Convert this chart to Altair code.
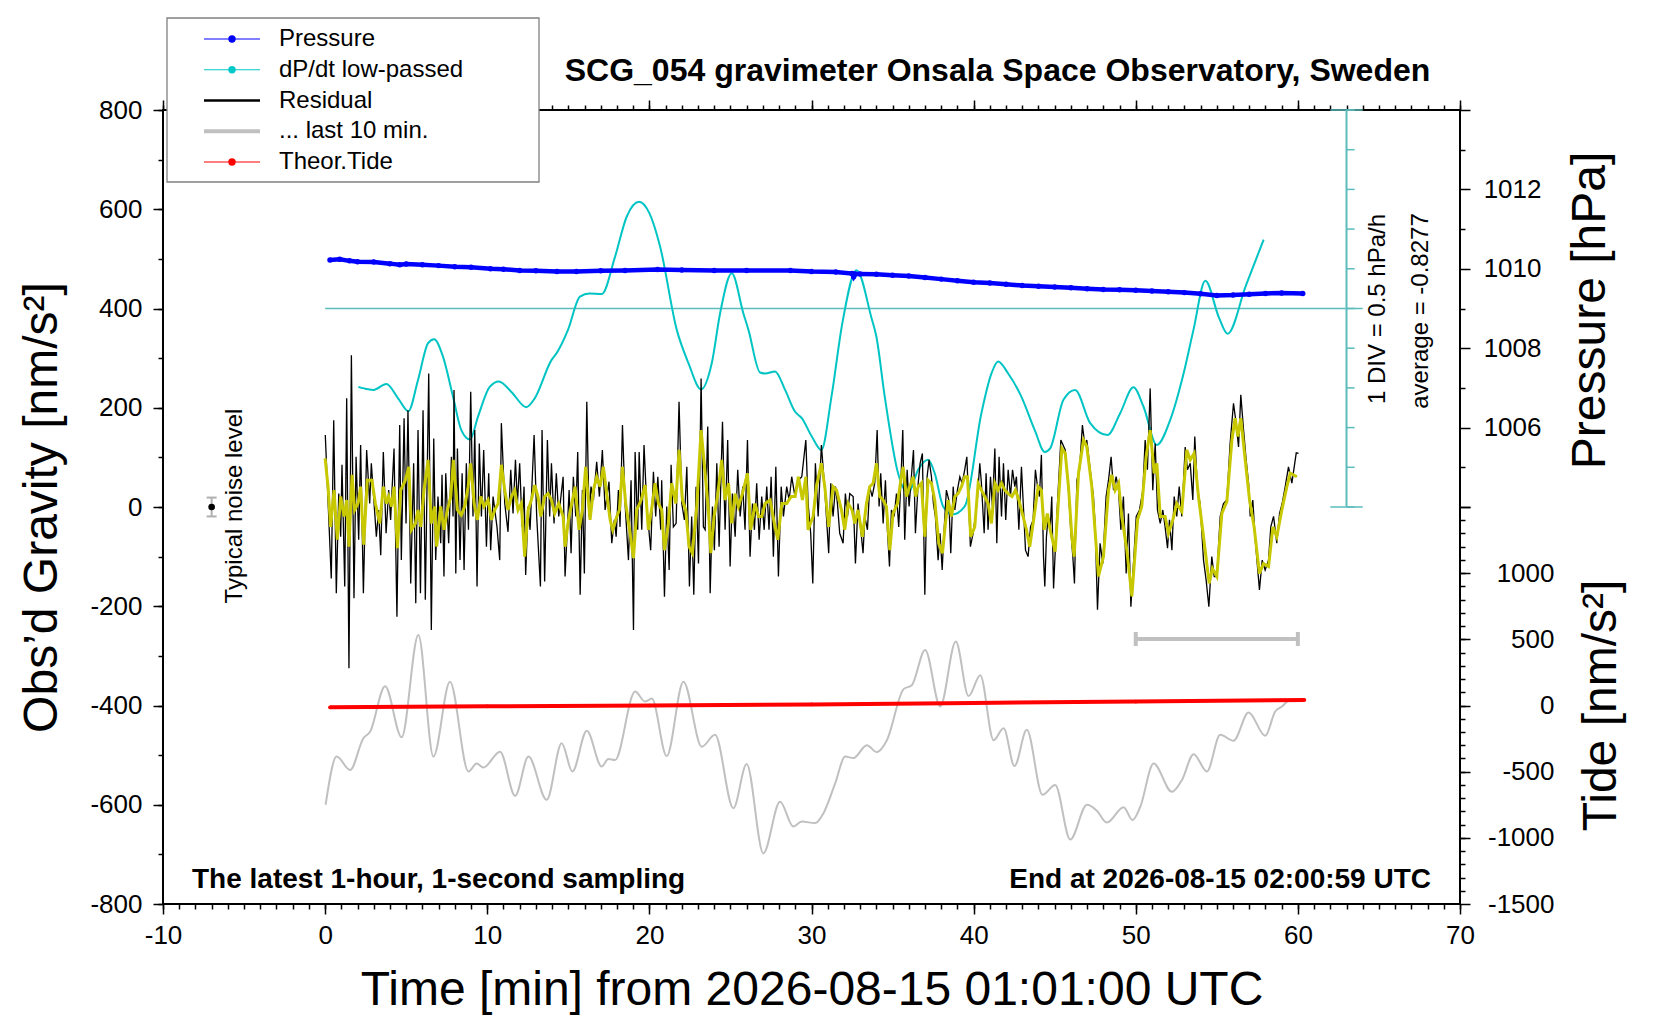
import altair as alt
import pandas as pd

FONT = "Liberation Sans, Arial, Helvetica, sans-serif"

# ---------------- data ----------------
# residual gravity, black line (time [min], nm/s^2)
RESIDUAL = [
    (0.01,145),(0.38,-144),(0.53,175),(0.69,-174),(0.84,27),(0.96,-60),(1.04,85),(1.21,-160),(1.33,219),(1.47,-325),
    (1.62,306),(1.78,-184),(1.91,101),(2.07,-66),(2.19,125),(2.36,-174),(2.56,115),(2.75,7),(2.85,88),(3.16,-60),
    (3.30,-6),(3.43,-97),(3.59,111),(3.76,-53),(3.92,34),(4.04,-26),(4.25,118),(4.43,-221),(4.60,165),(4.70,-107),
    (4.87,179),(4.99,-33),(5.11,195),(5.28,-154),(5.46,88),(5.59,-194),(5.73,155),(5.88,-174),(6.04,195),(6.18,-187),
    (6.39,269),(6.55,-248),(6.70,138),(6.82,-107),(6.96,21),(7.13,-73),(7.21,65),(7.33,-140),(7.44,68),(7.62,-73),
    (7.79,101),(7.89,-19),(7.95,236),(8.06,-134),(8.16,118),(8.32,-107),(8.45,68),(8.57,-127),(8.71,88),(8.84,-46),
    (8.98,232),(9.12,-19),(9.23,155),(9.37,-160),(9.51,128),(9.64,-19),(9.78,115),(9.95,-80),(10.09,68),(10.21,-87),
    (10.36,21),(10.60,-40),(10.77,-107),(10.87,169),(11.08,7),(11.28,-50),(11.45,75),(11.59,-13),(11.74,95),(11.86,7),
    (12.00,88),(12.15,-40),(12.27,41),(12.37,-137),(12.52,1),(12.64,-46),(12.89,145),(13.05,-19),(13.28,-160),(13.38,155),
    (13.54,-150),(13.71,135),(13.85,-19),(13.96,88),(14.12,-33),(14.26,68),(14.41,-19),(14.68,61),
    (14.80,-140),(15.05,34),(15.17,-93),(15.31,61),(15.46,-19),(15.58,111),(15.73,-177),(15.87,34),(15.99,-134),(16.14,212),
    (16.28,-19),(16.40,41),(16.55,14),(16.75,91),(16.92,21),(17.10,115),(17.27,-6),(17.51,51),(17.68,-73),(17.84,-26),
    (17.95,-60),(18.09,34),(18.19,-40),(18.34,165),(18.50,7),(18.71,-107),(18.87,54),(19.02,-248),(19.12,111),(19.28,-46),
    (19.37,111),(19.53,-46),(19.67,125),(19.84,1),(20.08,-87),(20.25,71),(20.39,-19),(20.52,61),(20.70,-46),(20.76,54),
    (20.93,-181),(21.07,1),(21.22,-127),(21.34,85),(21.48,-40),(21.65,-33),(21.83,212),(22.00,7),(22.16,-26),(22.31,81),
    (22.47,-160),(22.61,-19),(22.74,-177),(22.88,41),(23.03,-114),(23.19,259),(23.33,-40),(23.44,-46),(23.60,162),(23.75,-174),
    (23.89,1),(24.01,-87),(24.16,88),(24.30,-80),(24.51,172),(24.67,-46),(24.83,135),(24.98,-120),(25.12,27),(25.29,-60),
    (25.45,75),(25.60,-19),(25.76,41),(25.90,-46),(26.05,135),(26.21,-100),(26.36,7),(26.48,-46),(26.62,48),(26.77,-66),
    (26.93,21),(27.08,-46),(27.24,41),(27.38,-46),(27.51,61),(27.65,-100),(27.80,81),(27.96,-140),(28.13,41),(28.27,-19),
    (28.47,41),(28.62,14),(28.78,61),(28.95,27),(29.19,54),(29.40,61),(29.65,135),
    (29.79,7),(29.95,-53),(30.08,-154),(30.24,88),(30.41,-19),(30.61,125),(30.82,34),(30.92,-19),(31.06,-93),(31.19,48),
    (31.33,-19),(31.48,41),(31.60,7),(31.74,-53),(31.95,-73),(32.09,27),(32.22,-19),(32.36,27),(32.57,21),(32.71,-114),
    (32.87,7),(33.04,-46),(33.18,-93),(33.29,-19),(33.45,-46),(33.59,41),(33.74,21),(33.90,48),(34.05,155),(34.17,1),
    (34.27,68),(34.42,-33),(34.56,54),(34.68,-46),(34.81,-120),(34.93,-6),(35.10,-19),(35.24,27),(35.38,-40),(35.51,48),
    (35.63,155),(35.75,-66),(35.90,75),(36.02,1),(36.16,61),(36.29,115),(36.41,-53),(36.58,48),(36.70,88),(36.84,108),
    (36.99,-177),(37.13,61),(37.25,95),(37.40,61),(37.52,7),(37.64,-19),(37.81,-107),(37.93,-53),(38.06,-127),(38.18,-46),
    (38.32,34),(38.47,14),(38.59,-93),(38.74,41),(38.84,-6),(39.00,34),(39.15,61),(39.29,48),(39.45,75),(39.58,101),
    (39.70,7),(39.80,-80),(39.97,-53),(40.11,-19),(40.24,21),(40.38,88),(40.48,48),(40.65,-53),(40.77,68),(40.89,-46),
    (41.04,61),(41.16,1),(41.31,118),(41.43,-73),(41.57,101),(41.72,-19),(41.84,88),(41.98,-26),(42.13,75),(42.27,21),
    (42.40,75),(42.54,41),(42.64,61),(42.79,-46),(42.95,81),(43.07,1),(43.20,-87),(43.36,-100),(43.51,-40),(43.67,-26),
    (43.81,75),(43.94,41),(44.06,21),(44.18,105),(44.31,-100),(44.39,-160),(44.49,-60),(44.60,-19),
    (44.72,-46),(44.82,21),(44.93,-164),(45.13,-19),(45.38,135),(45.65,115),(45.85,34),(45.99,-46),(46.12,-100),(46.22,-154),
    (46.37,54),(46.53,75),(46.71,165),(46.86,125),(46.98,135),(47.19,75),(47.39,21),(47.50,-40),(47.64,-207),(47.80,-73),
    (47.97,-114),(48.17,21),(48.32,54),(48.48,101),(48.63,34),(48.79,61),(48.94,34),(49.08,-46),(49.24,21),(49.41,-134),
    (49.55,-13),(49.70,-201),(49.86,-114),(50.03,-19),(50.23,-6),(50.44,34),(50.58,135),(50.72,75),(50.89,239),(51.05,34),
    (51.20,128),(51.34,-6),(51.51,-33),(51.67,-6),(51.81,-40),(51.96,-83),(52.08,-26),(52.23,-87),(52.37,21),(52.53,-19),
    (52.68,41),(52.84,-19),(53.05,121),(53.19,75),(53.36,88),(53.52,14),(53.64,142),(53.81,34),(53.97,7),(54.18,-107),
    (54.34,-147),(54.51,-201),(54.69,-100),(54.84,-140),(55.00,-140),(55.21,-19),(55.41,7),(55.62,14),(55.82,128),(56.03,209),
    (56.19,169),(56.34,121),(56.48,226),(56.65,155),(56.81,95),(56.96,48),(57.06,-19),(57.22,14),(57.37,-66),(57.63,-167),
    (57.80,-107),(57.98,-127),(58.19,-107),(58.33,-40),(58.50,-19),(58.70,-73),(58.87,-13),(59.03,7),(59.22,41),(59.42,81),
    (59.63,48),(59.90,109),(60.04,108),
]

# low-passed residual, yellow line
SMOOTHED = [
    (0.00,98),(0.18,41),(0.34,-40),(0.55,34),(0.75,-66),(0.96,21),(1.17,-19),(1.33,14),(1.47,-80),(1.66,65),
    (1.82,-6),(2.03,7),(2.19,41),(2.38,-76),(2.60,54),(2.89,54),(3.10,7),(3.37,-33),(3.59,41),(3.78,7),
    (3.92,21),(4.09,1),(4.25,41),(4.46,-83),(4.66,34),(4.95,54),(5.16,81),(5.32,-46),(5.57,-33),(5.73,-6),
    (5.90,-40),(6.10,34),(6.35,95),(6.55,-33),(6.76,1),(6.88,-80),(7.13,1),(7.33,-46),(7.54,-6),(7.75,21),
    (7.91,95),(8.16,-6),(8.40,-16),(8.61,1),(8.82,41),(8.98,88),(9.19,7),(9.39,-26),(9.60,21),(9.80,1),
    (10.05,14),(10.26,-26),(10.46,-6),(10.67,7),(10.87,85),(11.08,34),(11.28,-6),(11.49,21),(11.69,34),(11.90,-6),
    (12.10,7),(12.31,-100),(12.52,-6),(12.72,14),(12.93,44),(13.13,21),(13.30,-19),(13.54,21),(13.75,27),(13.96,14),
    (14.16,-13),(14.41,7),(14.68,-19),
    (14.80,-80),(15.01,-26),(15.21,7),(15.42,41),(15.66,-46),(15.87,-6),(16.07,81),(16.34,-26),(16.55,34),(16.75,61),
    (16.96,41),(17.16,81),(17.37,27),(17.58,-26),(17.74,-46),(17.99,-19),(18.15,-6),(18.34,81),(18.54,7),(18.81,-53),
    (19.02,-103),(19.22,-6),(19.49,14),(19.74,44),(19.94,-46),(20.19,7),(20.35,48),(20.56,7),(20.76,-6),(20.93,-87),
    (21.17,-33),(21.38,48),(21.63,7),(21.83,115),(22.04,14),(22.24,-6),(22.45,-80),(22.65,-93),(22.92,1),(23.19,155),
    (23.44,68),(23.64,-6),(23.79,-93),(23.99,-19),(24.20,21),(24.46,95),(24.67,14),(24.88,48),(25.08,-33),(25.29,27),
    (25.49,1),(25.74,27),(26.05,68),(26.25,-46),(26.52,7),(26.73,-19),(26.93,-19),(27.14,7),(27.45,14),(27.71,-33),
    (27.92,-66),(28.17,7),(28.47,7),(28.74,21),(28.99,21),(29.19,61),(29.44,14),(29.65,61),
    (29.79,-46),(30.10,-19),(30.30,41),(30.61,88),(30.82,41),(31.06,-40),(31.33,41),(31.54,34),(31.85,-6),(32.05,-46),
    (32.26,7),(32.50,-6),(32.67,-33),(32.87,-6),(33.14,-60),(33.39,7),(33.59,41),(33.80,48),(34.01,88),(34.21,21),
    (34.42,14),(34.62,1),(34.83,-87),(35.03,-13),(35.30,7),(35.51,54),(35.65,81),(35.86,21),(36.06,41),(36.27,61),
    (36.43,21),(36.58,41),(36.78,48),(36.99,-60),(37.19,54),(37.40,48),(37.60,14),(37.85,-73),(38.08,-93),(38.26,-33),
    (38.43,14),(38.63,-19),(38.84,21),(39.04,27),(39.25,41),(39.45,61),(39.62,61),(39.82,-60),(40.07,-40),(40.28,48),
    (40.48,34),(40.69,21),(40.89,7),(41.10,-33),(41.31,48),(41.51,34),(41.72,48),(41.92,34),(42.13,27),(42.37,21),
    (42.58,34),(42.79,14),(43.05,-19),(43.26,-46),(43.46,-80),(43.73,-19),(43.98,41),(44.18,34),(44.35,-46),(44.55,-13),
    (44.72,-46),(45.03,-90),(45.44,118),(45.65,108),(45.85,41),(46.06,-60),(46.20,-100),(46.47,68),(46.78,135),(46.98,122),
    (47.29,41),(47.70,-140),(48.01,-100),(48.32,34),(48.52,65),(48.73,34),(48.94,48),(49.14,-19),(49.45,-87),(49.76,-180),
    (50.11,-26),(50.37,1),(50.64,101),(50.89,155),(51.14,68),(51.30,88),(51.51,-19),(51.81,-19),(52.02,-53),(52.29,-26),
    (52.53,7),(52.84,-9),(53.15,115),(53.36,95),(53.60,108),(53.87,21),(54.18,-60),(54.53,-154),(54.73,-124),(55.00,-140),
    (55.31,-13),(55.62,11),(55.93,135),(56.13,179),(56.30,142),(56.48,179),(56.75,95),(57.02,14),(57.30,-40),(57.63,-134),
    (57.88,-114),(58.19,-120),(58.46,-40),(58.70,-60),(59.01,-6),(59.32,41),(59.53,68),(59.94,61),
]

# grey long-period curve at the bottom (nm/s^2)
LONGTERM = [
    (0.03,-600),(0.71,-503),(1.54,-530),(2.36,-466),(2.77,-453),(3.70,-361),(4.72,-464),(5.75,-258),(6.68,-503),(7.70,-352),
    (8.84,-533),(9.35,-517),(9.76,-525),(10.79,-493),(11.72,-582),(12.54,-503),(13.67,-590),(14.59,-476),(15.25,-533),(16.14,-451),
    (17.06,-523),(17.47,-508),(17.88,-510),(19.12,-372),(19.73,-392),(20.15,-386),(21.07,-502),(22.10,-352),(23.23,-483),(24.05,-459),
    (25.18,-607),(26.00,-518),(27.03,-698),(28.06,-594),(28.88,-644),(29.40,-634),(30.23,-637),(30.74,-617),(31.46,-557),(32.08,-503),
    (32.59,-506),(33.41,-480),(34.03,-494),(34.65,-470),(35.68,-367),(36.19,-359),(37.01,-288),(37.94,-402),(38.90,-271),(39.69,-381),
    (40.41,-339),(41.23,-470),(41.85,-446),(42.52,-522),(43.28,-449),(44.25,-580),(45.03,-560),(45.96,-670),(46.99,-600),(47.60,-612),
    (48.22,-636),(49.25,-605),(49.80,-631),(50.28,-604),(51.10,-517),(52.23,-574),(52.85,-550),(53.57,-498),(54.39,-533),(55.21,-459),
    (56.03,-471),(56.96,-414),(57.99,-461),(58.60,-412),(59.02,-402),(59.53,-389),(59.84,-392),
]

# dP/dt low-passed (hPa/h)
DPDT = [
    (2.05,-1.815),(2.65,-1.846),(2.98,-1.853),(3.78,-1.778),(4.50,-1.959),(5.13,-2.121),(5.73,-1.728),(6.35,-1.265),
    (6.72,-1.215),(7.27,-1.434),(7.89,-1.940),(8.40,-2.359),(8.94,-2.478),(9.43,-2.190),(10.15,-1.815),(10.72,-1.746),
    (11.49,-1.878),(12.41,-2.071),(12.93,-1.959),(13.96,-1.478),(14.28,-1.390),(14.98,-1.097),(15.72,-0.678),(16.30,-0.640),
    (17.06,-0.646),(17.88,-0.178),(18.60,0.328),(19.36,0.516),(20.00,0.373),(20.66,-0.046),(21.69,-1.097),(22.41,-1.515),
    (23.19,-1.846),(23.85,-1.515),(24.36,-0.890),(25.08,-0.384),(25.80,-0.890),(26.11,-1.097),(26.83,-1.634),(27.14,-1.646),
    (27.75,-1.621),(28.37,-1.853),(28.99,-2.128),(29.40,-2.209),(30.02,-2.440),(30.61,-2.609),(31.23,-1.940),(31.90,-1.015),
    (32.78,-0.346),(33.70,-0.946),(34.00,-1.180),(34.52,-1.940),(35.34,-2.903),(35.96,-3.153),(36.58,-2.859),(37.19,-2.734),
    (37.60,-2.903),(38.12,-3.321),(38.70,-3.421),(39.45,-3.321),(40.48,-2.146),(41.10,-1.646),(41.51,-1.496),(42.13,-1.646),
    (42.95,-1.940),(43.77,-2.359),(44.39,-2.634),(44.72,-2.590),(45.54,-1.978),(46.26,-1.853),(47.19,-2.271),(48.26,-2.421),
    (49.04,-2.146),(49.86,-1.821),(50.48,-2.065),(51.30,-2.546),(52.12,-2.234),(52.95,-1.646),(53.56,-1.097),(54.29,-0.478),
    (55.14,-0.946),(55.67,-1.146),(56.78,-0.546),(57.89,0.041),
]
DPDT_AVG = -0.8277
DPDT_DIV = 0.5

# air pressure (hPa)
PRESSURE = [
    (0.3,1010.22),(0.9,1010.24),(1.5,1010.20),(2.0,1010.18),(3.0,1010.17),(4.0,1010.13),(4.6,1010.10),(5.0,1010.12),
    (6.0,1010.10),(7.0,1010.08),(8.0,1010.05),(9.0,1010.04),(10.2,1010.00),(11.0,1009.99),(12.0,1009.96),(13.0,1009.95),
    (14.3,1009.93),(15.5,1009.93),(17.0,1009.95),(18.5,1009.96),(20.5,1009.98),(22.0,1009.97),(24.0,1009.96),(26.0,1009.96),
    (28.7,1009.96),(30.0,1009.93),(31.5,1009.92),(32.5,1009.88),(32.6,1009.80),(32.7,1009.87),(33.0,1009.87),(34.0,1009.86),
    (35.0,1009.84),(36.0,1009.82),(37.0,1009.78),(38.0,1009.74),(39.0,1009.70),(40.0,1009.66),(41.0,1009.64),(42.0,1009.61),
    (43.0,1009.58),(44.0,1009.56),(45.0,1009.54),(46.0,1009.52),(47.0,1009.50),(48.0,1009.48),(49.0,1009.47),(50.0,1009.46),
    (51.0,1009.44),(52.0,1009.42),(53.0,1009.40),(54.0,1009.37),(55.0,1009.33),(56.0,1009.34),(57.0,1009.36),(58.0,1009.38),
    (59.0,1009.39),(60.3,1009.38),
]

# theoretical tide (nm/s^2)
TIDE = [(0.3,-14),(10.0,-6),(20.0,0),(30.0,8),(40.0,19),(50.0,30),(60.4,42)]

# typical noise level marker and "last 10 min" bar
NOISE = [(-7.0, 0.0, -19.0, 19.0)]
LAST10 = [(50.0, 60.0, -266.0)]

# texts
TITLE = "SCG_054 gravimeter Onsala Space Observatory, Sweden"
NOTE_LEFT = "The latest 1-hour, 1-second sampling"
NOTE_RIGHT = "End at 2026-08-15 02:00:59 UTC"
X_TITLE = "Time [min] from 2026-08-15 01:01:00 UTC"
G_TITLE = "Obs\u2019d Gravity [nm/s\u00b2]"
P_TITLE = "Pressure [hPa]"
T_TITLE = "Tide [nm/s\u00b2]"
DIV_TEXT = "1 DIV = 0.5 hPa/h"
AVG_TEXT = "average = -0.8277"
NOISE_TEXT = "Typical noise level"
LEG_LABELS = ["Pressure", "dP/dt low-passed", "Residual", "... last 10 min.", "Theor.Tide"]

# ---------------- styling / layout ----------------
LEG_COLORS = ["#0000ff", "#00c8c8", "#000000", "#c0c0c0", "#ff0000"]
LEG_THIN = ["Pressure", "dP/dt low-passed", "Theor.Tide"]
CYAN = "#00c4c4"
TEAL = "#5bbcbc"
W, H = 1297, 794
CYAN_AXIS_X = 63.0

xs = alt.Scale(domain=[-10, 70], nice=False, zero=False)
gs = alt.Scale(domain=[-800, 800], nice=False, zero=False)
ps = alt.Scale(domain=[994, 1014], nice=False, zero=False)
ts = alt.Scale(domain=[-1500, 4500], nice=False, zero=False)
ds = alt.Scale(domain=[DPDT_AVG - 15 * DPDT_DIV, DPDT_AVG + 5 * DPDT_DIV], nice=False, zero=False)

def df(rows, cols):
    return pd.DataFrame(rows, columns=cols)

def X(field, axis=None):
    return alt.X(field, type="quantitative", scale=xs, axis=axis)

def Y(field, scale, axis=None):
    return alt.Y(field, type="quantitative", scale=scale, axis=axis)

AX_X_MAJ = alt.Axis(orient="bottom", values=list(range(-10, 71, 10)), labelExpr="'' + datum.value",
                    tickSize=10, labelPadding=8, title=X_TITLE, titleX=W / 2, titleY=86,
                    titleBaseline="middle", titleAlign="center")
AX_X_MIN = alt.Axis(orient="bottom", values=list(range(-10, 71)), labels=False, tickSize=5, title=None)
AX_XT_MAJ = alt.Axis(orient="top", values=list(range(-10, 71, 10)), labels=False, tickSize=10, title=None)
AX_XT_MIN = alt.Axis(orient="top", values=list(range(-10, 71)), labels=False, tickSize=5, title=None)
AX_G_MAJ = alt.Axis(orient="left", values=list(range(-800, 801, 200)), labelExpr="'' + datum.value",
                    tickSize=10, labelPadding=11, title=G_TITLE, titleX=-121, titleY=397,
                    titleAngle=270, titleBaseline="middle", titleAlign="center")
AX_G_MIN = alt.Axis(orient="left", values=list(range(-800, 801, 100)), labels=False, tickSize=5, title=None)
AX_P_MAJ = alt.Axis(orient="right", values=list(range(1004, 1015, 2)),
                    labelExpr="(datum.value >= 1006 && datum.value <= 1012) ? '' + datum.value : ''",
                    tickSize=10, labelAlign="right", labelPadding=71, title=P_TITLE, titleX=130, titleY=200,
                    titleAngle=270, titleBaseline="middle", titleAlign="center")
AX_P_MIN = alt.Axis(orient="right", values=list(range(1005, 1014, 2)), labels=False, tickSize=5, title=None)
AX_T_MAJ = alt.Axis(orient="right", values=list(range(-1500, 1501, 500)),
                    labelExpr="datum.value < 1500 ? '' + datum.value : ''",
                    tickSize=10, labelAlign="right", labelPadding=84, title=T_TITLE, titleX=141, titleY=595,
                    titleAngle=270, titleBaseline="middle", titleAlign="center")
AX_T_MIN = alt.Axis(orient="right", values=list(range(-1400, 1401, 100)), labels=False, tickSize=5, title=None)

layers = []

# grey long-period curve
layers.append(alt.Chart(df(LONGTERM, ["t", "g"])).mark_line(color="#c0c0c0", strokeWidth=2, interpolate="monotone")
              .encode(x=X("t", AX_X_MAJ), y=Y("g", gs, AX_G_MAJ)))

# dP/dt reference axis (teal)
div_vals = [DPDT_AVG + DPDT_DIV * k for k in range(-5, 6)]
layers.append(alt.Chart(df([(CYAN_AXIS_X, div_vals[0], div_vals[-1])], ["x", "a", "b"]))
              .mark_rule(color=TEAL, strokeWidth=2)
              .encode(x=X("x"), y=Y("a", ds), y2="b"))
layers.append(alt.Chart(df([(CYAN_AXIS_X, CYAN_AXIS_X + 0.5, v) for v in div_vals], ["x", "x2", "v"]))
              .mark_rule(color=TEAL, strokeWidth=1.5)
              .encode(x=X("x"), x2="x2", y=Y("v", ds)))
layers.append(alt.Chart(df([(CYAN_AXIS_X - 1, CYAN_AXIS_X + 1, v) for v in (div_vals[0], div_vals[-1])], ["x", "x2", "v"]))
              .mark_rule(color=TEAL, strokeWidth=1.5)
              .encode(x=X("x"), x2="x2", y=Y("v", ds)))
layers.append(alt.Chart(df([(0.0, CYAN_AXIS_X + 1, DPDT_AVG)], ["x", "x2", "v"]))
              .mark_rule(color=TEAL, strokeWidth=1.6)
              .encode(x=X("x"), x2="x2", y=Y("v", ds)))

# dP/dt curve
layers.append(alt.Chart(df(DPDT, ["t", "v"])).mark_line(color=CYAN, strokeWidth=2, interpolate="monotone")
              .encode(x=X("t", AX_XT_MIN), y=Y("v", ds)))

# residual and its low-passed version
layers.append(alt.Chart(df(RESIDUAL, ["t", "g"])).mark_line(color="#000000", strokeWidth=1.3)
              .encode(x=X("t", AX_X_MIN), y=Y("g", gs, AX_G_MIN)))
layers.append(alt.Chart(df(SMOOTHED, ["t", "g"])).mark_line(color="#c8c800", strokeWidth=3)
              .encode(x=X("t", AX_XT_MAJ), y=Y("g", gs)))

# pressure
layers.append(alt.Chart(df(PRESSURE, ["t", "p"])).mark_line(color="#0000ff", strokeWidth=4.5)
              .encode(x=X("t"), y=Y("p", ps, AX_P_MAJ)))
layers.append(alt.Chart(df(PRESSURE, ["t", "p"])).mark_circle(color="#0000ff", size=30, opacity=1)
              .encode(x=X("t"), y=Y("p", ps, AX_P_MIN)))

# theoretical tide
layers.append(alt.Chart(df(TIDE, ["t", "v"])).mark_line(color="#ff0000", strokeWidth=4)
              .encode(x=X("t"), y=Y("v", ts, AX_T_MAJ)))
layers.append(alt.Chart(df(TIDE, ["t", "v"])).mark_circle(color="#ff0000", size=14, opacity=1)
              .encode(x=X("t"), y=Y("v", ts, AX_T_MIN)))

# last 10 min bar
bar = df(LAST10, ["a", "b", "g"])
layers.append(alt.Chart(bar).mark_rule(color="#c0c0c0", strokeWidth=4)
              .encode(x=X("a"), x2="b", y=Y("g", gs)))
bar_ends = pd.DataFrame({"t": [LAST10[0][0], LAST10[0][1]], "g": [LAST10[0][2]] * 2})
layers.append(alt.Chart(bar_ends).mark_tick(color="#c0c0c0", orient="vertical", size=14, thickness=4, opacity=1)
              .encode(x=X("t"), y=Y("g", gs)))

# typical noise level marker
noise = df(NOISE, ["t", "g", "lo", "hi"])
layers.append(alt.Chart(noise).mark_rule(color="#b0b0b0", strokeWidth=2)
              .encode(x=X("t"), y=Y("lo", gs), y2="hi"))
noise_ends = pd.DataFrame({"t": [NOISE[0][0]] * 2, "g": [NOISE[0][2], NOISE[0][3]]})
layers.append(alt.Chart(noise_ends).mark_tick(color="#b0b0b0", orient="horizontal", size=10, thickness=2, opacity=1)
              .encode(x=X("t"), y=Y("g", gs)))
layers.append(alt.Chart(noise).mark_circle(color="black", size=45, opacity=1)
              .encode(x=X("t"), y=Y("g", gs)))

# free texts
def text(s, x, y, size, weight="normal", angle=0, align="center", baseline="middle"):
    return (alt.Chart(pd.DataFrame({"s": [s]}))
            .mark_text(font=FONT, fontSize=size, fontWeight=weight, angle=angle, align=align,
                       baseline=baseline, color="black")
            .encode(text="s:N", x=alt.value(x), y=alt.value(y)))

layers.append(text(TITLE, 834.5, -39, 32, weight="bold"))
layers.append(text(NOTE_LEFT, 29, 770, 28, weight="bold", align="left"))
layers.append(text(NOTE_RIGHT, 1268, 770, 28, weight="bold", align="right"))
layers.append(text(NOISE_TEXT, 72, 396, 24, angle=270))
layers.append(text(DIV_TEXT, 1215, 199, 24, angle=270))
layers.append(text(AVG_TEXT, 1258, 201, 24, angle=270))

# legend box
layers.append(alt.Chart(pd.DataFrame({"k": [0]})).mark_rect(fill="white", stroke="#808080", strokeWidth=1.3)
              .encode(x=alt.value(4), x2=alt.value(376), y=alt.value(-92), y2=alt.value(72)))
leg = pd.DataFrame({"label": LEG_LABELS})
ly = alt.Y("label:N", scale=alt.Scale(type="point", domain=LEG_LABELS, range=[-71, 52], padding=0), axis=None)
lc = alt.Color("label:N", scale=alt.Scale(domain=LEG_LABELS, range=LEG_COLORS), legend=None)
layers.append(alt.Chart(leg).mark_rule(strokeWidth=1.2)
              .encode(x=alt.value(41), x2=alt.value(97), y=ly, color=lc)
              .transform_filter(alt.FieldOneOfPredicate(field="label", oneOf=LEG_THIN)))
layers.append(alt.Chart(leg).mark_rule(strokeWidth=2.5)
              .encode(x=alt.value(41), x2=alt.value(97), y=ly, color=lc)
              .transform_filter(alt.FieldEqualPredicate(field="label", equal=LEG_LABELS[2])))
layers.append(alt.Chart(leg).mark_rule(strokeWidth=4)
              .encode(x=alt.value(41), x2=alt.value(97), y=ly, color=lc)
              .transform_filter(alt.FieldEqualPredicate(field="label", equal=LEG_LABELS[3])))
layers.append(alt.Chart(leg).mark_circle(size=55, opacity=1)
              .encode(x=alt.value(69), y=ly, color=lc)
              .transform_filter(alt.FieldOneOfPredicate(field="label", oneOf=LEG_THIN)))
layers.append(alt.Chart(leg).mark_text(font=FONT, fontSize=24, align="left", baseline="middle", color="black")
              .encode(x=alt.value(116), y=ly, text="label:N"))

chart = (alt.layer(*layers)
         .resolve_scale(y="independent", color="independent")
         .resolve_axis(x="independent", y="independent")
         .properties(width=W, height=H, autosize=alt.AutoSizeParams(type="none"),
                     padding={"left": 155, "top": 102, "right": 168, "bottom": 112})
         .configure_view(stroke="black", strokeWidth=2)
         .configure_axis(labelFont=FONT, titleFont=FONT, labelFontSize=26, titleFontSize=48,
                         titleFontWeight="normal", labelColor="black", titleColor="black",
                         tickColor="black", tickWidth=1.5, grid=False, domain=False,
                         labelOverlap=False, labelFlush=False))

chart.save("out.html", embed_options={"renderer": "svg", "actions": False})
